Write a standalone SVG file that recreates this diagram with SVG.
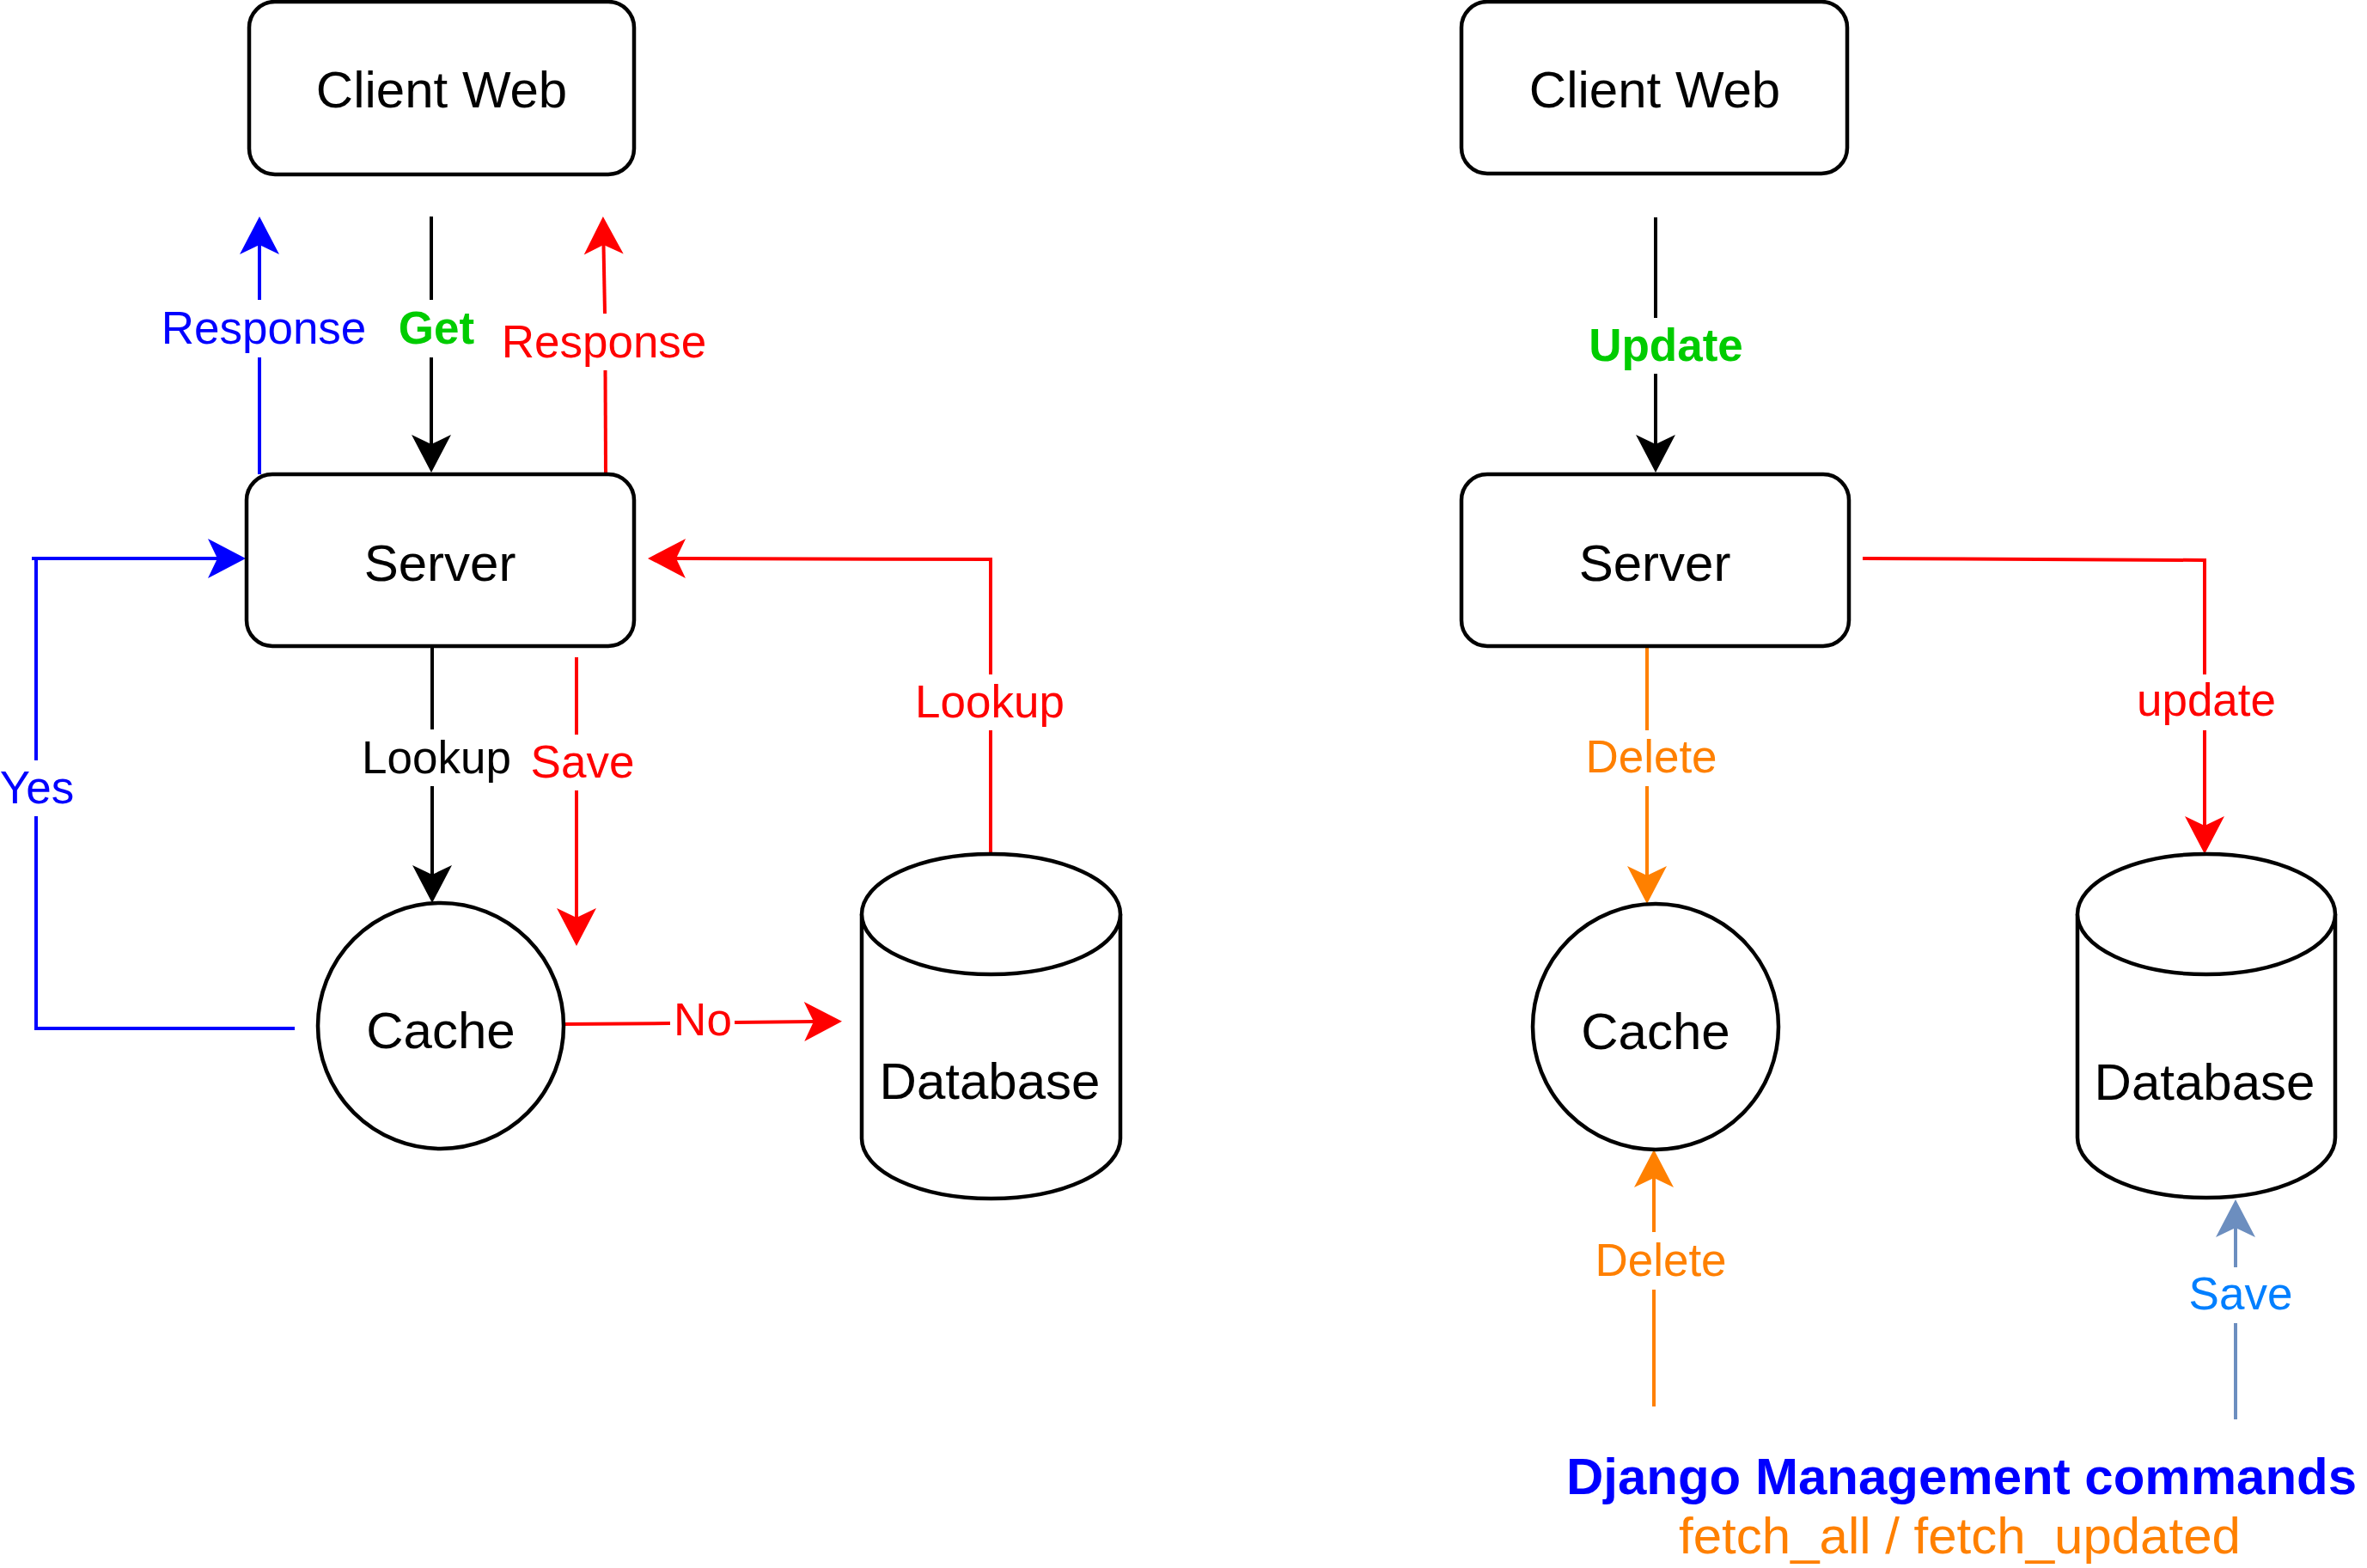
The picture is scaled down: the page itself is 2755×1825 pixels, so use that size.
<svg xmlns="http://www.w3.org/2000/svg" width="2755" height="1825" viewBox="0 0 2755 1825">
<style>
.node{fill:#fff;stroke:#000;stroke-width:4.5}
.nt{font-family:"Liberation Sans",Arial,sans-serif;font-size:60px;fill:#000;text-anchor:middle}
.lb{font-family:"Liberation Sans",Arial,sans-serif;font-size:53px;text-anchor:middle}
.b{font-weight:bold}
.c{fill:none;stroke-width:4}
</style>
<defs>
<marker id="aK" markerUnits="userSpaceOnUse" viewBox="-2 -25 50 50" markerWidth="50" markerHeight="50" refX="11" refY="0" orient="auto"><path d="M0,-23 L44,0 L0,23 L11,0 Z" fill="#000"/></marker>
<marker id="aB" markerUnits="userSpaceOnUse" viewBox="-2 -25 50 50" markerWidth="50" markerHeight="50" refX="11" refY="0" orient="auto"><path d="M0,-23 L44,0 L0,23 L11,0 Z" fill="#0000FF"/></marker>
<marker id="aR" markerUnits="userSpaceOnUse" viewBox="-2 -25 50 50" markerWidth="50" markerHeight="50" refX="11" refY="0" orient="auto"><path d="M0,-23 L44,0 L0,23 L11,0 Z" fill="#FF0000"/></marker>
<marker id="aO" markerUnits="userSpaceOnUse" viewBox="-2 -25 50 50" markerWidth="50" markerHeight="50" refX="11" refY="0" orient="auto"><path d="M0,-23 L44,0 L0,23 L11,0 Z" fill="#FF8000"/></marker>
<marker id="aS" markerUnits="userSpaceOnUse" viewBox="-2 -25 50 50" markerWidth="50" markerHeight="50" refX="11" refY="0" orient="auto"><path d="M0,-23 L44,0 L0,23 L11,0 Z" fill="#6C8EBF"/></marker>
</defs>
<rect width="2755" height="1825" fill="#fff"/>

<g id="connectors">
<!-- Left: Get -->
<path class="c" stroke="#000" d="M502,252 L502,349"/>
<path class="c" stroke="#000" d="M502,416 L502,517" marker-end="url(#aK)"/>
<!-- Left: blue Response -->
<path class="c" stroke="#0000FF" d="M302,552 L302,416"/>
<path class="c" stroke="#0000FF" d="M302,349 L302,285" marker-end="url(#aB)"/>
<!-- Left: red Response -->
<path class="c" stroke="#FF0000" d="M705,551 L704.5,431"/>
<path class="c" stroke="#FF0000" d="M704,365 L702.5,285" marker-end="url(#aR)"/>
<!-- Left: Lookup -->
<path class="c" stroke="#000" d="M503,752 L503,849"/>
<path class="c" stroke="#000" d="M503,915 L503,1018" marker-end="url(#aK)"/>
<!-- Left: Save -->
<path class="c" stroke="#FF0000" d="M671,765 L671,855"/>
<path class="c" stroke="#FF0000" d="M671,920 L671,1068" marker-end="url(#aR)"/>
<!-- Left: Yes -->
<path class="c" stroke="#0000FF" d="M343,1197 L42,1197 L42,950"/>
<path class="c" stroke="#0000FF" d="M42,885 L42,650"/>
<path class="c" stroke="#0000FF" d="M37,650 L253,650" marker-end="url(#aB)"/>
<!-- Left: No -->
<path class="c" stroke="#FF0000" d="M655,1192 L780,1191"/>
<path class="c" stroke="#FF0000" d="M855,1190 L947,1189" marker-end="url(#aR)"/>
<!-- Left: red Lookup -->
<path class="c" stroke="#FF0000" d="M1153,994 L1153,850"/>
<path class="c" stroke="#FF0000" d="M1153,785 L1153,651 L787,650" marker-end="url(#aR)"/>
<!-- Right: Update -->
<path class="c" stroke="#000" d="M1927,253 L1927,370"/>
<path class="c" stroke="#000" d="M1927,435 L1927,517" marker-end="url(#aK)"/>
<!-- Right: update -->
<path class="c" stroke="#FF0000" d="M2168,650 L2566,652 L2566,785"/>
<path class="c" stroke="#FF0000" d="M2566,850 L2566,961" marker-end="url(#aR)"/>
<!-- Right: Delete top -->
<path class="c" stroke="#FF8000" d="M1917,753 L1917,850"/>
<path class="c" stroke="#FF8000" d="M1917,915 L1917,1019" marker-end="url(#aO)"/>
<!-- Right: Delete bottom -->
<path class="c" stroke="#FF8000" d="M1925,1637 L1925,1501"/>
<path class="c" stroke="#FF8000" d="M1925,1434 L1925,1371" marker-end="url(#aO)"/>
<!-- Right: Save -->
<path class="c" stroke="#6C8EBF" d="M2602,1652 L2602,1540"/>
<path class="c" stroke="#6C8EBF" d="M2602,1475 L2602,1429" marker-end="url(#aS)"/>

<!-- labels -->
<text class="lb" x="307" y="400" fill="#0000FF">Response</text>
<text class="lb b" x="508" y="400" fill="#00CC00">Get</text>
<text class="lb" x="703" y="416" fill="#FF0000">Response</text>
<text class="lb" x="508" y="900" fill="#000">Lookup</text>
<text class="lb" x="678" y="905" fill="#FF0000">Save</text>
<text class="lb" x="43" y="935" fill="#0000FF">Yes</text>
<text class="lb" x="818" y="1205" fill="#FF0000">No</text>
<text class="lb" x="1152" y="835" fill="#FF0000">Lookup</text>
<text class="lb b" x="1939" y="420" fill="#00CC00">Update</text>
<text class="lb" x="2568" y="833" fill="#FF0000">update</text>
<text class="lb" x="1922" y="899" fill="#FF8000">Delete</text>
<text class="lb" x="1933" y="1485" fill="#FF8000">Delete</text>
<text class="lb" x="2608" y="1524" fill="#007FFF">Save</text>
</g>

<g id="client-web-left">
<rect class="node" x="290" y="2" width="448" height="201" rx="30" ry="30"/>
<text class="nt" x="514" y="125">Client Web</text>
</g>
<g id="server-left">
<rect class="node" x="287" y="552" width="451" height="200" rx="30" ry="30"/>
<text class="nt" x="512" y="676">Server</text>
</g>
<g id="cache-left">
<circle class="node" cx="513" cy="1194" r="143"/>
<text class="nt" x="513" y="1220">Cache</text>
</g>
<g id="database-left">
<path class="node" d="M1003,1064 A150.5,70 0 0 1 1304,1064 L1304,1325 A150.5,70 0 0 1 1003,1325 Z"/>
<path class="node" fill="none" d="M1003,1064 A150.5,70 0 0 0 1304,1064"/>
<text class="nt" x="1152" y="1279">Database</text>
</g>

<g id="client-web-right">
<rect class="node" x="1701" y="2" width="449" height="200" rx="30" ry="30"/>
<text class="nt" x="1926" y="125">Client Web</text>
</g>
<g id="server-right">
<rect class="node" x="1701" y="552" width="451" height="200" rx="30" ry="30"/>
<text class="nt" x="1926" y="676">Server</text>
</g>
<g id="cache-right">
<circle class="node" cx="1927" cy="1195" r="143"/>
<text class="nt" x="1927" y="1221">Cache</text>
</g>
<g id="database-right">
<path class="node" d="M2418,1064 A150,70 0 0 1 2718,1064 L2718,1324 A150,70 0 0 1 2418,1324 Z"/>
<path class="node" fill="none" d="M2418,1064 A150,70 0 0 0 2718,1064"/>
<text class="nt" x="2566" y="1280">Database</text>
</g>

<g id="django-commands">
<text class="nt b" x="2283" y="1739" fill="#0000FF" style="fill:#0000FF">Django Management commands</text>
<text class="nt" x="2281" y="1808" style="fill:#FF8000">fetch_all / fetch_updated</text>
</g>
</svg>
